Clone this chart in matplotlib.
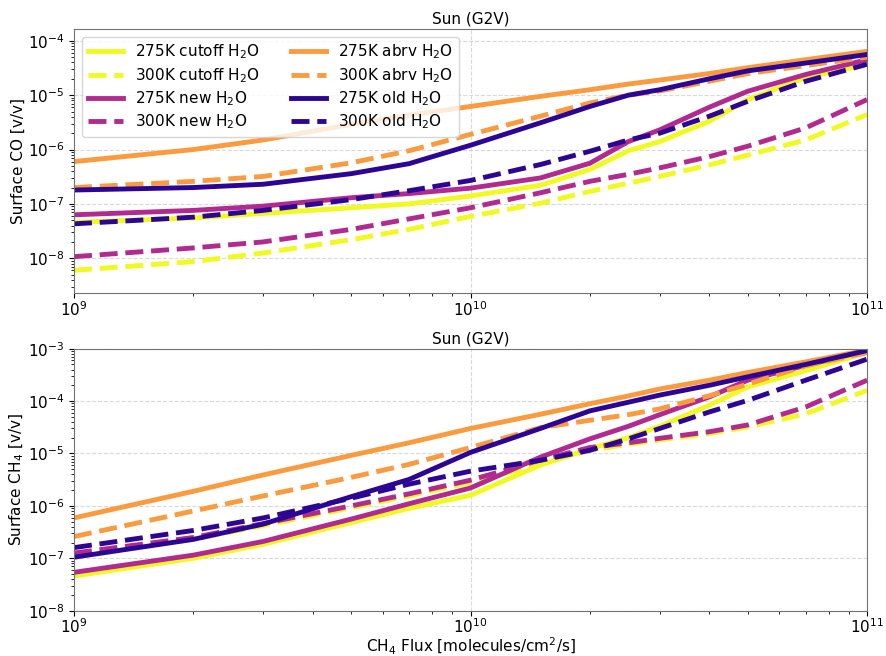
import matplotlib
matplotlib.use('Agg')
import matplotlib.pyplot as plt
import numpy as np

# CH4 flux grid [molecules/cm2/s]
flux = [1e9, 2e9, 3e9, 5e9, 7e9, 1e10, 1.5e10, 2e10, 2.5e10, 3e10, 4e10, 5e10, 7e10, 1e11]

labels = ['275K cutoff H$_2$O', '300K cutoff H$_2$O',
          '275K new H$_2$O', '300K new H$_2$O',
          '275K abrv H$_2$O', '300K abrv H$_2$O',
          '275K old H$_2$O', '300K old H$_2$O']

# surface CO [v/v]
co_cutoff_275 = [4.6e-8, 5.5e-8, 6.7e-8, 8.5e-8, 1.0e-7, 1.4e-7, 2.2e-7, 4.3e-7, 9.5e-7, 1.4e-6, 3.3e-6, 8.3e-6, 2.1e-5, 3.7e-5]
co_cutoff_300 = [6.0e-9, 8.7e-9, 1.25e-8, 2.2e-8, 3.4e-8, 5.9e-8, 1.03e-7, 1.7e-7, 2.4e-7, 3.2e-7, 5.2e-7, 7.9e-7, 1.5e-6, 4.4e-6]
co_new_275 = [6.3e-8, 7.6e-8, 9.1e-8, 1.3e-7, 1.55e-7, 1.95e-7, 3.0e-7, 5.6e-7, 1.4e-6, 2.3e-6, 6.0e-6, 1.18e-5, 2.4e-5, 4.5e-5]
co_new_300 = [1.07e-8, 1.55e-8, 2.0e-8, 3.4e-8, 5.3e-8, 8.5e-8, 1.6e-7, 2.6e-7, 3.5e-7, 4.6e-7, 7.4e-7, 1.15e-6, 2.5e-6, 8.3e-6]
co_abrv_275 = [6.0e-7, 1.0e-6, 1.5e-6, 2.9e-6, 4.3e-6, 6.2e-6, 9.5e-6, 1.26e-5, 1.6e-5, 1.9e-5, 2.5e-5, 3.2e-5, 4.5e-5, 6.4e-5]
co_abrv_300 = [2.0e-7, 2.6e-7, 3.2e-7, 5.7e-7, 9.5e-7, 1.9e-6, 4.1e-6, 7.2e-6, 1.0e-5, 1.2e-5, 1.8e-5, 2.5e-5, 3.5e-5, 5.0e-5]
co_old_275 = [1.8e-7, 2.0e-7, 2.3e-7, 3.6e-7, 5.5e-7, 1.2e-6, 3.1e-6, 6.2e-6, 1.0e-5, 1.26e-5, 2.0e-5, 2.8e-5, 3.9e-5, 5.6e-5]
co_old_300 = [4.3e-8, 5.7e-8, 7.6e-8, 1.2e-7, 1.75e-7, 2.7e-7, 5.3e-7, 9.3e-7, 1.5e-6, 2.0e-6, 4.1e-6, 7.7e-6, 1.8e-5, 3.7e-5]

# surface CH4 [v/v]
ch4_cutoff_275 = [4.6e-8, 1.0e-7, 1.85e-7, 4.8e-7, 9.0e-7, 1.6e-6, 6.0e-6, 1.23e-5, 2.0e-5, 3.3e-5, 8.3e-5, 1.86e-4, 3.8e-4, 8.5e-4]
ch4_cutoff_300 = [1.15e-7, 2.3e-7, 4.2e-7, 9.2e-7, 1.55e-6, 2.8e-6, 6.3e-6, 1.15e-5, 1.5e-5, 1.8e-5, 2.4e-5, 3.2e-5, 5.7e-5, 1.6e-4]
ch4_new_275 = [5.4e-8, 1.15e-7, 2.1e-7, 5.6e-7, 1.1e-6, 2.2e-6, 8.5e-6, 1.9e-5, 3.3e-5, 5.5e-5, 1.2e-4, 2.5e-4, 4.8e-4, 9.2e-4]
ch4_new_300 = [1.26e-7, 2.5e-7, 4.6e-7, 1.0e-6, 1.7e-6, 3.1e-6, 7.5e-6, 1.3e-5, 1.6e-5, 1.95e-5, 2.6e-5, 3.5e-5, 7.7e-5, 2.5e-4]
ch4_abrv_275 = [5.9e-7, 1.9e-6, 3.9e-6, 9.2e-6, 1.6e-5, 3.0e-5, 5.6e-5, 8.9e-5, 1.25e-4, 1.7e-4, 2.5e-4, 3.5e-4, 5.6e-4, 9.4e-4]
ch4_abrv_300 = [2.6e-7, 8.0e-7, 1.55e-6, 3.5e-6, 6.2e-6, 1.3e-5, 3.1e-5, 4.3e-5, 5.5e-5, 7.1e-5, 1.26e-4, 2.1e-4, 4.7e-4, 8.4e-4]
ch4_old_275 = [1.05e-7, 2.3e-7, 4.5e-7, 1.5e-6, 3.2e-6, 1.05e-5, 3.0e-5, 6.5e-5, 9.5e-5, 1.3e-4, 2.0e-4, 2.9e-4, 5.0e-4, 9.2e-4]
ch4_old_300 = [1.6e-7, 3.4e-7, 5.9e-7, 1.4e-6, 2.6e-6, 4.6e-6, 7.4e-6, 1.15e-5, 1.9e-5, 3.0e-5, 6.2e-5, 1.03e-4, 2.5e-4, 6.3e-4]

colors = ['#f0f921', '#f0f921', '#b12a90', '#b12a90',
          '#fb9b3f', '#fb9b3f', '#2c0594', '#2c0594']
styles = ['-', '--'] * 4

co_series = [co_cutoff_275, co_cutoff_300, co_new_275, co_new_300,
             co_abrv_275, co_abrv_300, co_old_275, co_old_300]
ch4_series = [ch4_cutoff_275, ch4_cutoff_300, ch4_new_275, ch4_new_300,
              ch4_abrv_275, ch4_abrv_300, ch4_old_275, ch4_old_300]

fig = plt.figure(figsize=(8.86, 6.56), dpi=100)
ax1 = fig.add_axes([0.0835, 0.5534, 0.8951, 0.4024])
ax2 = fig.add_axes([0.0835, 0.0690, 0.8951, 0.3995])

for ax, series in ((ax1, co_series), (ax2, ch4_series)):
    for y, lab, c, ls in zip(series, labels, colors, styles):
        ax.plot(flux, y, color=c, ls=ls, lw=3.5, label=lab)
    ax.set_xscale('log')
    ax.set_yscale('log')
    ax.set_xlim(1e9, 1e11)
    ax.set_title('Sun (G2V)', fontsize=11, pad=4)
    ax.grid(True, which='major', ls='--', color='0.85', lw=0.8)
    ax.tick_params(labelsize=11)
    ax.tick_params(axis='x', pad=1.5)
    for s in ax.spines.values():
        s.set_color('0.45')

ax1.set_ylim(2.3e-9, 1.65e-4)
ax2.set_ylim(1e-8, 1e-3)
ax1.set_ylabel('Surface CO [v/v]', fontsize=11, labelpad=1)
ax2.set_ylabel('Surface CH$_4$ [v/v]', fontsize=11, labelpad=1)
ax2.set_xlabel('CH$_4$ Flux [molecules/cm$^2$/s]', fontsize=11, labelpad=0)
ax1.legend(loc='upper left', ncol=2, fontsize=11, framealpha=0.8,
           handlelength=2.3, labelspacing=0.3)

fig.savefig('out.png', dpi=100)
